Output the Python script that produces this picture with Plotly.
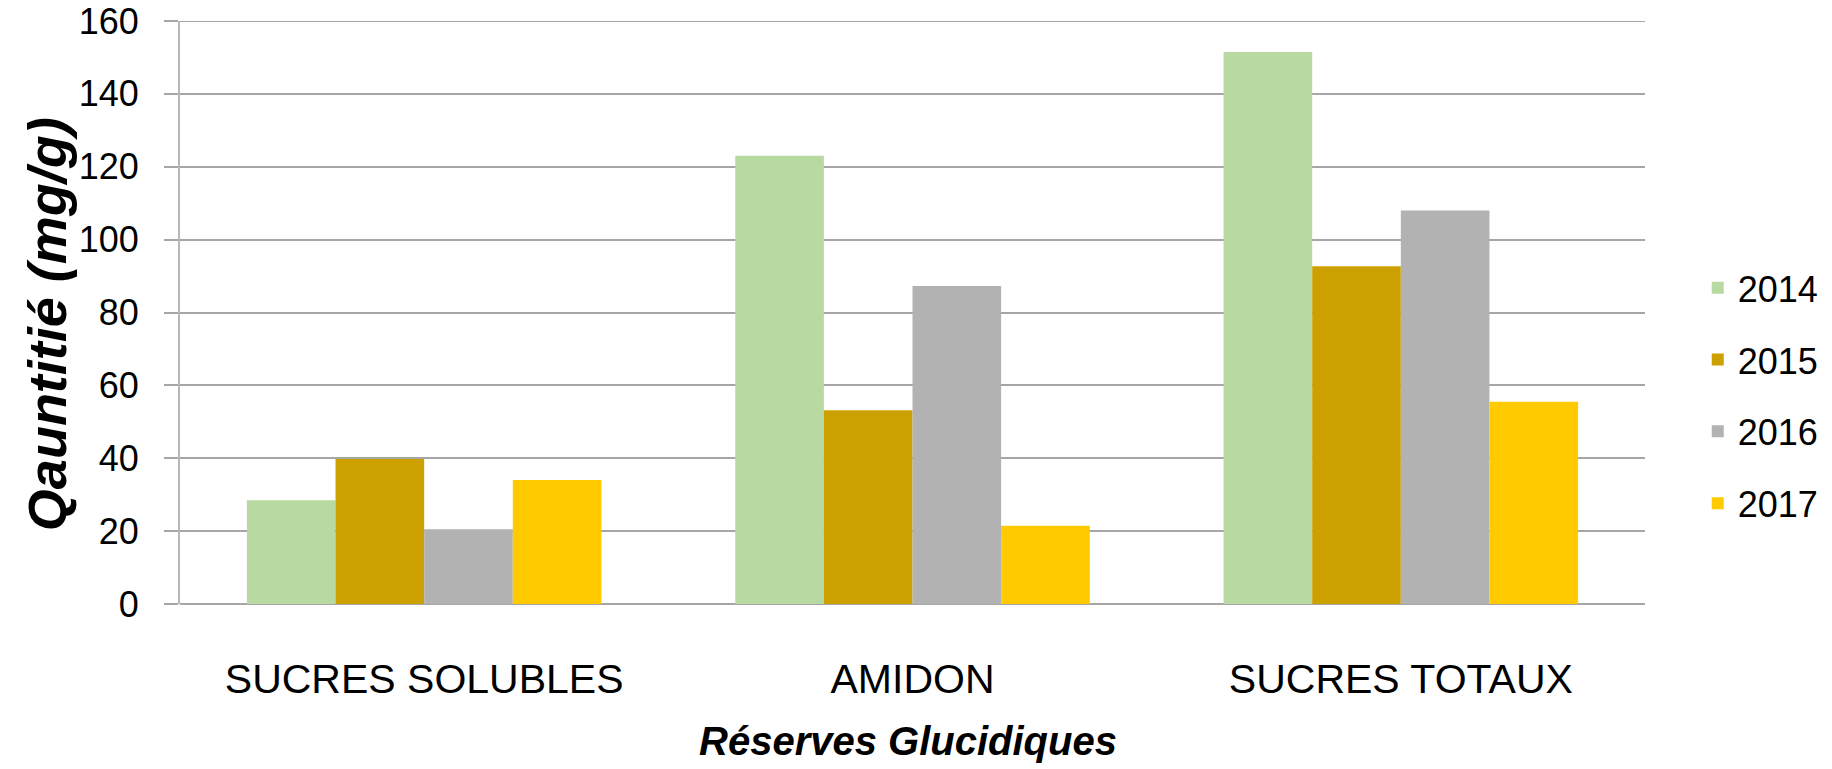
import plotly.graph_objects as go

categories = ["SUCRES SOLUBLES", "AMIDON", "SUCRES TOTAUX"]
years = ["2014", "2015", "2016", "2017"]
v2014 = [28.5, 123.0, 151.5]
v2015 = [39.8, 53.2, 92.7]
v2016 = [20.5, 87.3, 108.0]
v2017 = [34.0, 21.5, 55.5]
colors = ["#B8D9A1", "#CCA000", "#B2B2B2", "#FFCA00"]

series = [v2014, v2015, v2016, v2017]
FONT = "Liberation Sans, Arial, sans-serif"

fig = go.Figure()
for name, vals, col in zip(years, series, colors):
    fig.add_trace(go.Bar(
        x=categories, y=vals, name=name, legendgroup=name,
        marker=dict(color=col, line=dict(width=0)),
    ))

fig.update_layout(
    width=1832, height=769,
    margin=dict(l=180, r=187, t=21, b=165, autoexpand=False),
    paper_bgcolor="white", plot_bgcolor="white",
    barmode="group", bargap=0.274, bargroupgap=0,
    font=dict(family=FONT, color="black"),
    showlegend=True,
    legend=dict(
        x=1.036, y=0.357, xanchor="left", yanchor="middle",
        font=dict(size=36, family=FONT),
        traceorder="grouped", tracegroupgap=22,
        itemwidth=30,
    ),
    xaxis=dict(
        automargin=False,
        showgrid=False,
        showline=False,
        ticks="",
        tickfont=dict(size=41, family=FONT),
        ticklabelstandoff=47,
    ),
    yaxis=dict(
        automargin=False,
        range=[0, 160], dtick=20,
        showgrid=True, gridcolor="#A6A6A6", gridwidth=2,
        showline=True, linecolor="#B8B8B8", linewidth=2,
        ticks="outside", ticklen=14, tickcolor="#A6A6A6", tickwidth=2,
        tickfont=dict(size=36, family=FONT),
        ticklabelstandoff=18,
        ticklabeloverflow="allow",
        zeroline=True, zerolinecolor="#A6A6A6", zerolinewidth=2,
    ),
    shapes=[
        dict(type="line", xref="paper", yref="y", x0=0, x1=1, y0=160, y1=160,
             line=dict(color="#A6A6A6", width=2), layer="below"),
    ],
    annotations=[
        dict(text="<b><i>Qauntitié (mg/g)</i></b>", xref="paper", yref="paper",
             x=-0.0908, y=0.48, xanchor="center", yanchor="middle",
             textangle=-90, showarrow=False, font=dict(size=54, family=FONT)),
        dict(text="<b><i>Réserves Glucidiques</i></b>", xref="paper", yref="paper",
             x=0.497, y=-0.235, xanchor="center", yanchor="middle",
             showarrow=False, font=dict(size=40, family=FONT)),
    ],
)

fig.write_html("out.html", config={"displayModeBar": False},
               post_script="document.body.style.margin='0';")
